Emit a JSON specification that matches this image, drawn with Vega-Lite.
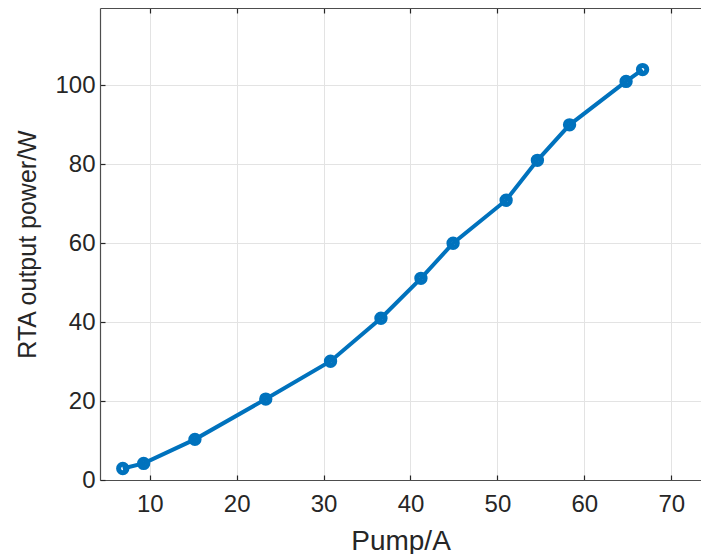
{
  "$schema": "https://vega.github.io/schema/vega-lite/v6.json",
  "width": 601,
  "height": 472,
  "autosize": {"type": "none"},
  "padding": {"left": 100, "top": 8, "right": 0, "bottom": 74},
  "background": "white",
  "config": {
    "view": {"stroke": null},
    "font": "Liberation Sans",
    "axis": {
      "labelFont": "Liberation Sans",
      "titleFont": "Liberation Sans",
      "labelFontSize": 24,
      "titleFontSize": 25,
      "labelColor": "#262626",
      "titleColor": "#262626",
      "titleFontWeight": "normal",
      "domainColor": "#4d4d4d",
      "tickColor": "#262626",
      "gridColor": "#e3e3e3",
      "gridWidth": 1,
      "domainWidth": 1.2,
      "tickSize": -5,
      "tickWidth": 1.2
    }
  },
  "data": {"values": [
    {"pump": 6.9, "power": 2.9},
    {"pump": 9.3, "power": 4.2},
    {"pump": 15.2, "power": 10.3},
    {"pump": 23.35, "power": 20.5},
    {"pump": 30.8, "power": 30.1},
    {"pump": 36.6, "power": 41.0},
    {"pump": 41.2, "power": 51.1},
    {"pump": 44.9, "power": 60.0},
    {"pump": 51.0, "power": 70.9},
    {"pump": 54.6, "power": 81.0},
    {"pump": 58.3, "power": 90.0},
    {"pump": 64.8, "power": 101.0},
    {"pump": 66.7, "power": 104.0}
  ]},
  "encoding": {
    "x": {"field": "pump", "type": "quantitative", "scale": {"domain": [4.28, 73.42], "nice": false, "zero": false}},
    "y": {"field": "power", "type": "quantitative", "scale": {"domain": [0, 119.6], "nice": false},
      "axis": {"title": "RTA output power/W", "values": [0, 20, 40, 60, 80, 100], "labelPadding": 10, "titlePadding": 14}}
  },
  "layer": [
    {
      "mark": {"type": "line", "color": "#0072BD", "strokeWidth": 4},
      "encoding": {
        "x": {"field": "pump", "type": "quantitative", "axis": {"title": "Pump/A", "titleFontSize": 28, "orient": "bottom", "values": [10, 20, 30, 40, 50, 60, 70], "labelPadding": 17, "titlePadding": 11}}
      }
    },
    {
      "mark": {"type": "point", "shape": "circle", "filled": false, "color": "#0072BD", "strokeWidth": 5, "size": 70, "opacity": 1},
      "encoding": {
        "x": {"field": "pump", "type": "quantitative", "axis": {"title": null, "orient": "top", "values": [10, 20, 30, 40, 50, 60, 70], "labels": false, "grid": false}}
      }
    }
  ],
  "resolve": {"axis": {"x": "independent"}}
}
